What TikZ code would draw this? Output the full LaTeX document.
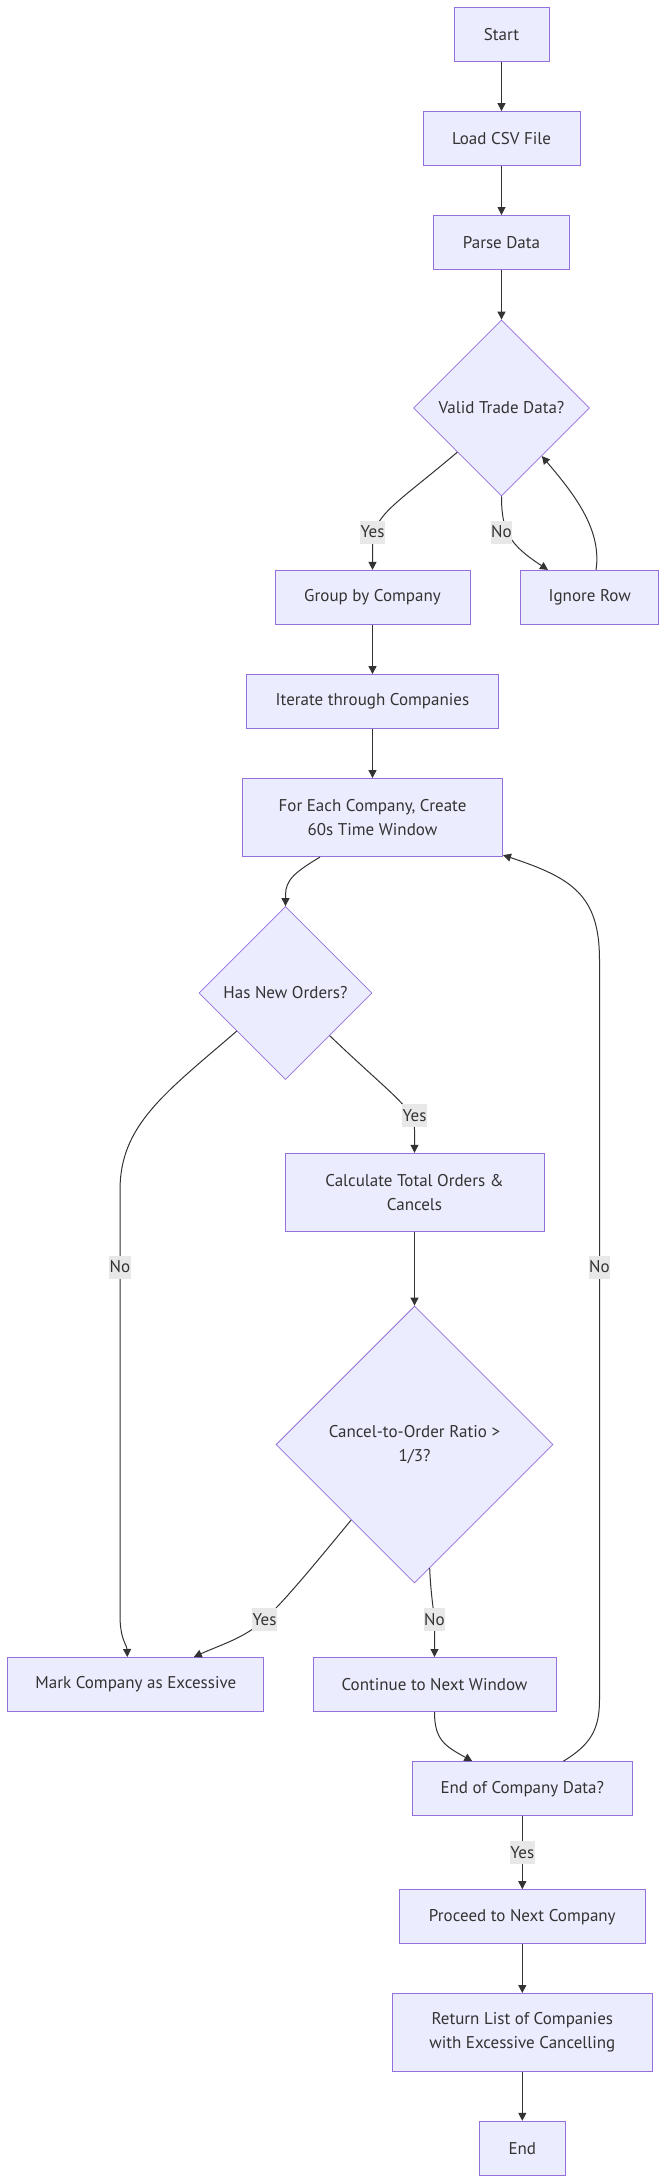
\documentclass[tikz,border=0pt]{standalone}
\usepackage{fontspec}
\setmainfont{PT Sans}
\usetikzlibrary{shapes.geometric,arrows.meta,calc}
\definecolor{boxfill}{HTML}{ECECFF}
\definecolor{boxline}{HTML}{9370DB}
\definecolor{ln}{HTML}{333333}
\definecolor{lblbg}{HTML}{E8E8E8}
\tikzset{
  box/.style={rectangle, draw=boxline, fill=boxfill, line width=1pt, inner sep=0pt, align=center, text=ln, minimum height=54pt},
  decision/.style={diamond, aspect=1, draw=boxline, fill=boxfill, line width=0.8pt, inner sep=0pt, align=center, text=ln},
  edge/.style={draw=ln, line width=1pt, -{Triangle[length=8pt,width=8pt]}},
  lbl/.style={fill=lblbg, text=ln, inner xsep=0.5pt, inner ysep=0pt, minimum height=23pt}
}
\begin{document}
\begin{tikzpicture}[x=1pt,y=-1pt, font=\fontsize{17}{24}\selectfont]
\useasboundingbox (0,0) rectangle (667,2184);
% nodes
\node[box, minimum width=95pt] (start) at (501.5,35) {Start};
\node[box, minimum width=157pt] (load) at (501.5,138.6) {Load CSV File};
\node[box, minimum width=136pt] (parse) at (501.5,242.5) {Parse Data};
\node[decision, minimum width=176pt, minimum height=176pt] (valid) at (501.5,408) {Valid Trade Data?};
\node[box, minimum width=195pt] (group) at (372.5,597.4) {Group by Company};
\node[box, minimum width=138pt] (ignore) at (589.7,597.4) {Ignore Row};
\node[box, minimum width=252pt] (iterate) at (372.5,701.6) {Iterate through Companies};
\node[box, minimum width=260pt, minimum height=78pt] (foreach) at (372.5,817.6) {For Each Company, Create\\60s Time Window};
\node[decision, minimum width=173pt, minimum height=173pt] (hasnew) at (285.5,993) {Has New Orders?};
\node[box, minimum width=259pt, minimum height=78pt] (calc) at (414.5,1192.3) {Calculate Total Orders \&\\Cancels};
\node[decision, minimum width=277pt, minimum height=277pt] (cancel) at (414.5,1444.5) {Cancel-to-Order Ratio >\\1/3?};
\node[box, minimum width=256pt] (mark) at (135.8,1684.5) {Mark Company as Excessive};
\node[box, minimum width=243pt] (cont) at (434.5,1684.5) {Continue to Next Window};
\node[box, minimum width=220pt] (endco) at (522.3,1788.7) {End of Company Data?};
\node[box, minimum width=246pt] (proceed) at (522.3,1916.7) {Proceed to Next Company};
\node[box, minimum width=260pt, minimum height=78pt] (ret) at (522.3,2032.5) {Return List of Companies\\with Excessive Cancelling};
\node[box, minimum width=86pt] (fin) at (522.3,2148.3) {End};
% edges
\draw[edge] (start) -- (load);
\draw[edge] (load) -- (parse);
\draw[edge] (parse) -- (valid);
\draw[edge] (valid.-135) .. controls (395,505) and (372.5,515) .. (372.5,545) -- (group.north);
\draw[edge] (valid.south) .. controls (501.5,532) and (510,545) .. ($(ignore.north)+(-41.7,0)$);
\draw[edge] ($(ignore.north)+(6.3,0)$) .. controls (602,530) and (575,495) .. (valid.-50);
\draw[edge] (group) -- (iterate);
\draw[edge] (iterate) -- (foreach);
\draw[edge] ($(foreach.south)+(-52.5,0)$) .. controls (295,872) and (285.5,880) .. (285.5,895) -- (hasnew.north);
\draw[edge] (hasnew.-44) .. controls (395,1098) and (414.5,1108) .. (414.5,1130) -- (calc.north);
\draw[edge] (hasnew.-142) .. controls (165,1093) and (120,1125) .. (120,1190) -- (120,1615) .. controls (120,1640) and (127,1645) .. ($(mark.north)+(-8.5,0)$);
\draw[edge] (calc) -- (cancel);
\draw[edge] (cancel.-130) .. controls (310,1570) and (285,1600) .. (264.6,1619.5) .. controls (245,1638) and (220,1645) .. ($(mark.north)+(58,0)$);
\draw[edge] (cancel.-83.5) .. controls (431,1600) and (434.5,1610) .. (434.5,1630) -- (cont.north);
\draw[edge] (cont.south) .. controls (434.5,1740) and (445,1746) .. ($(endco.north)+(-50,0)$);
\draw[edge] ($(endco.north)+(41,0)$) .. controls (590,1745) and (599.5,1730) .. (599.5,1700) -- (599.5,960) .. controls (599.5,895) and (572,878) .. ($(foreach.south east)+(0,-2)$);
\draw[edge] (endco) -- (proceed);
\draw[edge] (proceed) -- (ret);
\draw[edge] (ret) -- (fin);
% labels
\node[lbl] (l1) at (372.5,532) {Yes};
\node[lbl] (l2) at (501.5,532) {No};
\node[lbl] (l3) at (414.5,1115.5) {Yes};
\node[lbl] (l4) at (120,1267) {No};
\node[lbl] (l5) at (599.5,1267) {No};
\node[lbl] (l6) at (264.6,1619.5) {Yes};
\node[lbl] (l7) at (434.5,1619.5) {No};
\node[lbl] (l8) at (522.3,1852.3) {Yes};
\end{tikzpicture}
\end{document}
